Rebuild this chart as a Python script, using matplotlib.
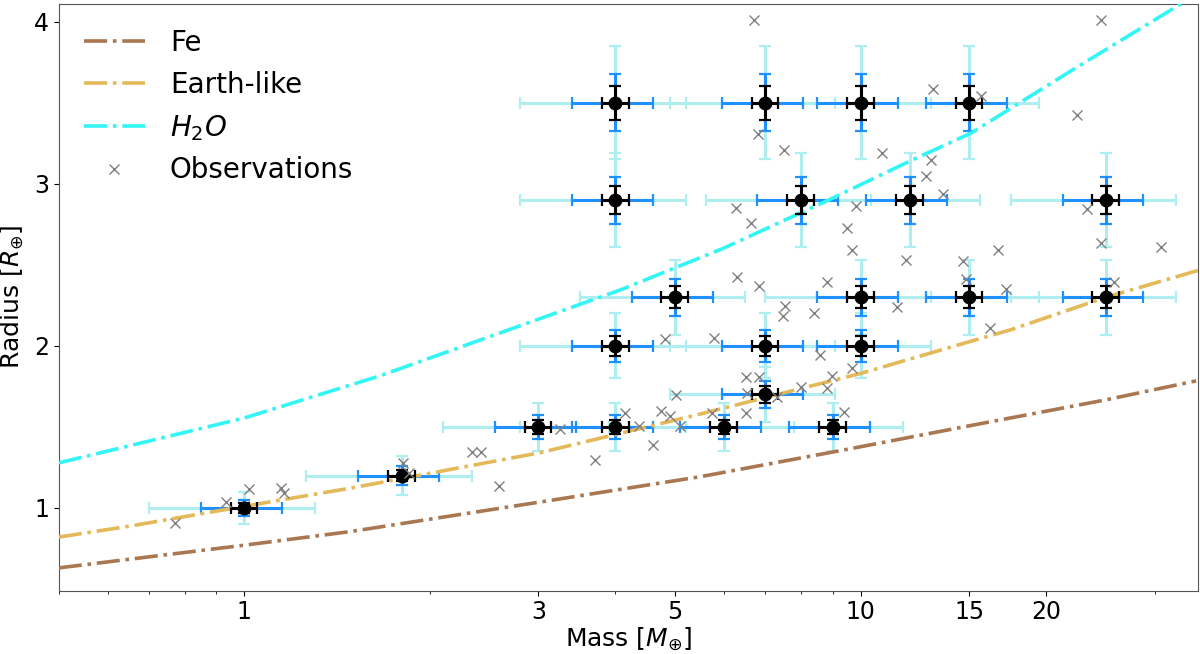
import numpy as np
import matplotlib
matplotlib.use("Agg")
import matplotlib.pyplot as plt
from matplotlib.ticker import FixedLocator, NullFormatter, FixedFormatter

# ---- Model curves ----
fe_mass = [0.5, 1.0, 1.486, 3.17, 5.5, 9.4, 15.6, 25.0, 35.0]
fe_radius = [0.63, 0.77, 0.854, 1.049, 1.193, 1.358, 1.519, 1.667, 1.784]

earth_mass = [0.5, 0.655, 1.0, 1.486, 1.66, 3.02, 5.5, 10.0, 15.46, 17.5, 25.0, 34.8, 36.0]
earth_radius = [0.82, 0.889, 1.01, 1.122, 1.156, 1.341, 1.58, 1.83, 2.04, 2.099, 2.30, 2.459, 2.475]

h2o_mass = [0.5, 1.0, 1.66, 4.08, 5.97, 8.93, 12.01, 15.1, 22.0, 32.9, 36.0]
h2o_radius = [1.278, 1.555, 1.815, 2.346, 2.60, 2.905, 3.14, 3.313, 3.70, 4.105, 4.19]

# ---- Synthetic planets (grid) ----
grid_mass = [4, 7, 10, 15, 4, 8, 12, 25, 5, 10, 15, 25, 4, 7, 10, 7, 3, 4, 6, 9, 1.8, 1.0]
grid_radius = [3.5, 3.5, 3.5, 3.5, 2.9, 2.9, 2.9, 2.9, 2.3, 2.3, 2.3, 2.3,
               2.0, 2.0, 2.0, 1.7, 1.5, 1.5, 1.5, 1.5, 1.2, 1.0]

# relative uncertainties: (mass, radius)
err_levels = [(0.30, 0.10), (0.15, 0.05), (0.05, 0.03)]
err_colors = ["paleturquoise", "dodgerblue", "black"]

# ---- Observations ----
obs_mass = [0.773, 0.935, 1.019, 1.148, 1.158, 1.81, 1.85, 2.34, 2.42, 2.59,
            3.25, 3.70, 4.14, 4.37, 4.61, 4.75, 4.90, 5.09, 5.02, 4.82,
            5.74, 6.51, 6.51, 6.83, 6.55, 7.31, 7.99, 8.83, 8.99, 9.69,
            9.40, 8.59, 5.78, 7.55, 7.49, 8.39, 6.29, 6.84, 8.80, 11.47,
            9.69, 11.83, 14.63, 14.81, 16.7, 17.2, 16.2, 23.3, 24.5, 25.8,
            30.7, 22.4, 24.5, 6.71, 6.81, 7.51, 10.84, 13.12, 15.7, 13.02,
            12.77, 13.62, 6.27, 6.63, 9.82, 9.51]
obs_radius = [0.905, 1.039, 1.115, 1.12, 1.09, 1.28, 1.214, 1.344, 1.344, 1.136,
              1.486, 1.294, 1.585, 1.506, 1.387, 1.60, 1.57, 1.506, 1.697, 2.041,
              1.585, 1.585, 1.807, 1.807, 1.708, 1.687, 1.745, 1.743, 1.817, 1.862,
              1.594, 1.944, 2.05, 2.247, 2.187, 2.204, 2.422, 2.370, 2.393, 2.239,
              2.59, 2.531, 2.525, 2.412, 2.593, 2.35, 2.109, 2.844, 2.634, 2.397,
              2.613, 3.426, 4.012, 4.008, 3.306, 3.206, 3.19, 3.584, 3.539, 3.148,
              3.051, 2.936, 2.85, 2.761, 2.86, 2.726]

x_ticks = [1, 3, 5, 10, 15, 20]
y_ticks = [1, 2, 3, 4]

fig = plt.figure(figsize=(12, 6.54), dpi=100)
ax = fig.add_axes([0.049, 0.097, 0.949, 0.897])

gm = np.array(grid_mass)
gr = np.array(grid_radius)
for (fm, fr), col, z in zip(err_levels, err_colors, [1, 2, 4]):
    ax.errorbar(gm, gr, xerr=fm * gm, yerr=fr * gr, fmt="none", ecolor=col,
                elinewidth=2.2, capsize=4.5, capthick=1.6, zorder=z)

ax.plot(fe_mass, fe_radius, ls="-.", color="#a97852", lw=2.6, label="Fe", zorder=3)
ax.plot(earth_mass, earth_radius, ls="-.", color="#e3b95a", lw=2.6, label="Earth-like", zorder=3)
ax.plot(h2o_mass, h2o_radius, ls="-.", color="#33f5f5", lw=2.6, label="$H_2O$", zorder=3)

ax.plot(gm, gr, "o", color="black", ms=9, zorder=5)
ax.plot(obs_mass, obs_radius, "x", color="gray", ms=6.5, mew=1.0, ls="none",
        label="Observations", zorder=6)

ax.set_xscale("log")
ax.set_xlim(0.5, 35.2)
ax.set_ylim(0.49, 4.11)
ax.xaxis.set_major_locator(FixedLocator(x_ticks))
ax.xaxis.set_major_formatter(FixedFormatter([str(t) for t in x_ticks]))
ax.xaxis.set_minor_formatter(NullFormatter())
ax.set_yticks(y_ticks)
ax.tick_params(axis="both", labelsize=17)
ax.set_xlabel(r"Mass [$M_{\oplus}$]", fontsize=18, labelpad=1)
ax.set_ylabel(r"Radius [$R_{\oplus}$]", fontsize=18, labelpad=6)
for s in ax.spines.values():
    s.set_color("#555555")

leg = ax.legend(loc="upper left", fontsize=20, frameon=False,
                handlelength=2.2, handletextpad=0.9, borderaxespad=0.5,
                labelspacing=0.5)

fig.savefig("out.png", dpi=100)
